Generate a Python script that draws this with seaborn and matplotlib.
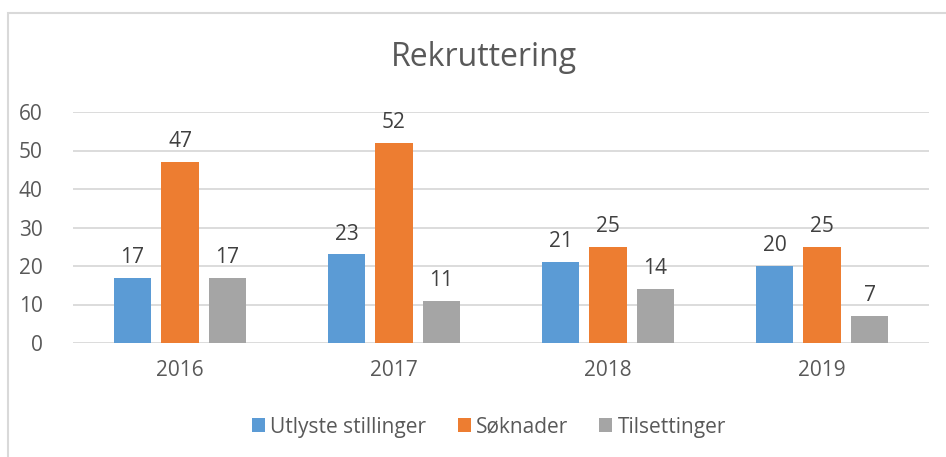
import pandas as pd
import numpy as np
import matplotlib.pyplot as plt
import seaborn as sns
from matplotlib.patches import Rectangle

# Data
years = ['2016', '2017', '2018', '2019']
series = ['Utlyste stillinger', 'Søknader', 'Tilsettinger']
utlyste = [17, 23, 21, 20]
soknader = [47, 52, 25, 25]
tilsettinger = [17, 11, 14, 7]
colors = ['#5B9BD5', '#ED7D31', '#A5A5A5']

df = pd.DataFrame({
    'År': years * 3,
    'Serie': [series[0]] * 4 + [series[1]] * 4 + [series[2]] * 4,
    'Antall': utlyste + soknader + tilsettinger,
})

sns.set_style("white")
plt.rcParams['font.family'] = ['Open Sans', 'DejaVu Sans']
text_color = '#595959'

fig = plt.figure(figsize=(9.46, 4.57), dpi=100)
ax = fig.add_axes([73 / 946, 1 - 343 / 457, (929 - 73) / 946, (343 - 112) / 457])

sns.barplot(data=df, x='År', y='Antall', hue='Serie', palette=colors,
            width=0.666, gap=0.21, ax=ax, legend=True, saturation=1,
            linewidth=0)

# value labels
for cont in ax.containers:
    ax.bar_label(cont, padding=7, fontsize=15, color='#404040')

ax.set_ylim(0, 60)
ax.set_yticks(range(0, 61, 10))
ax.set_xlim(-0.5, 3.5)
ax.yaxis.grid(True, color='#D9D9D9', linewidth=1.3)
ax.set_axisbelow(True)
for s in ax.spines.values():
    s.set_visible(False)
ax.tick_params(axis='y', length=0, pad=22, labelsize=15, labelcolor=text_color)
ax.tick_params(axis='x', length=0, pad=12, labelsize=15, labelcolor=text_color)
ax.set_xlabel('')
ax.set_ylabel('')

fig.text(484 / 946, 1 - 58 / 457, 'Rekruttering', ha='center', va='center',
         fontsize=23, color=text_color)

handles, labels = ax.get_legend_handles_labels()
ax.get_legend().remove()
fig.legend(handles, labels, loc='center', bbox_to_anchor=(489 / 946, 1 - 427 / 457),
           ncol=3, frameon=False, fontsize=15, labelcolor=text_color,
           handlelength=0.62, handleheight=0.62, handletextpad=0.25, columnspacing=1.5)

# chart border
fig.patches.append(Rectangle((8 / 946, -0.1), 1.0, 1 - 13 / 457 + 0.1,
                             transform=fig.transFigure, fill=False,
                             edgecolor='#D9D9D9', linewidth=1.5))

fig.savefig('out.png', dpi=100)
